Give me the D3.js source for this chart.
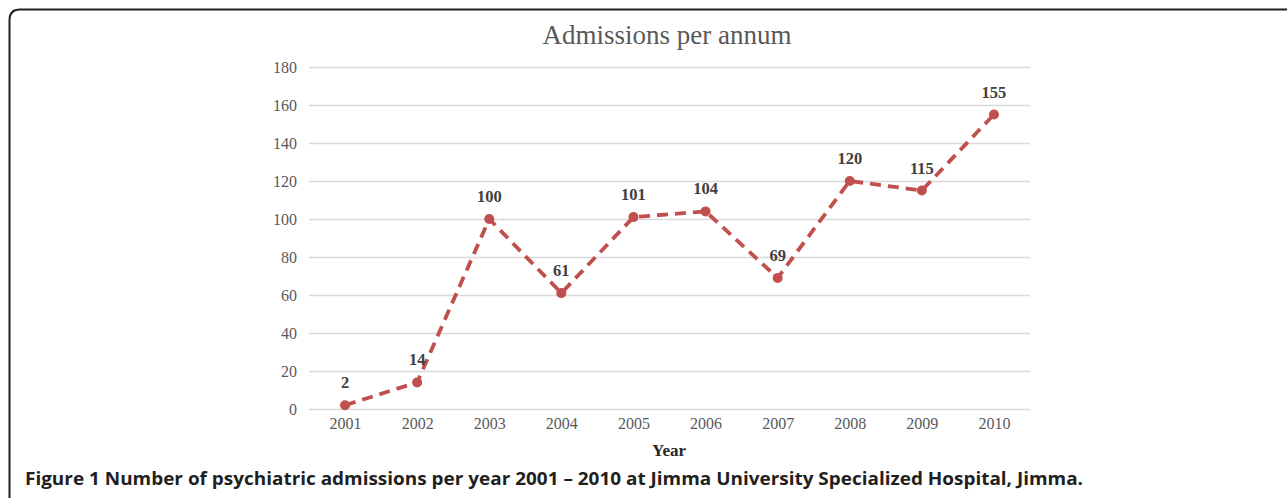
<!DOCTYPE html>
<html>
<head>
<meta charset="utf-8">
<script src="https://cdn.jsdelivr.net/npm/d3@7"></script>
<style>
  body { margin: 0; background: #fff; }
  svg { display: block; }
</style>
</head>
<body>
<div id="chart"></div>
<script>
// data
const years = ["2001", "2002", "2003", "2004", "2005", "2006", "2007", "2008", "2009", "2010"];
const admissions = [2, 14, 100, 61, 101, 104, 69, 120, 115, 155];
const yTicks = [0, 20, 40, 60, 80, 100, 120, 140, 160, 180];

const W = 1287, H = 498;
const svg = d3.select("#chart").append("svg")
    .attr("width", W)
    .attr("height", H);

// frame with rounded top-left corner
svg.append("path")
    .attr("d", "M9.5,498 L9.5,20 Q9.5,9.5 20,9.5 L1287,9.5")
    .attr("fill", "none")
    .attr("stroke", "#231f20")
    .attr("stroke-width", 2);

const x = d3.scalePoint()
    .domain(years)
    .range([309, 1030])
    .padding(0.5);

const y = d3.scaleLinear()
    .domain([0, 180])
    .range([409, 67]);

const serif = "'Liberation Serif', 'Times New Roman', serif";

// gridlines
svg.append("g")
    .selectAll("line")
    .data(yTicks)
    .join("line")
    .attr("x1", 309)
    .attr("x2", 1030)
    .attr("y1", d => y(d) + 0.5)
    .attr("y2", d => y(d) + 0.5)
    .attr("stroke", "#d9d9d9")
    .attr("stroke-width", 1.3);

// y axis labels
const yAxis = svg.append("g")
    .attr("transform", "translate(309,0)")
    .attr("font-family", serif)
    .attr("font-size", 16)
    .call(d3.axisLeft(y).tickValues(yTicks).tickSize(0).tickPadding(12));
yAxis.attr("font-family", serif).attr("font-size", 16);
yAxis.select(".domain").remove();
yAxis.selectAll("text").attr("fill", "#595959");

// x axis labels
const xAxis = svg.append("g")
    .attr("transform", "translate(0,409)")
    .call(d3.axisBottom(x).tickSize(0).tickPadding(9));
xAxis.attr("font-family", serif).attr("font-size", 16);
xAxis.select(".domain").remove();
xAxis.selectAll("text").attr("fill", "#595959");

// title
svg.append("text")
    .attr("x", 667)
    .attr("y", 44)
    .attr("text-anchor", "middle")
    .attr("font-family", serif)
    .attr("font-size", 27)
    .attr("fill", "#595959")
    .text("Admissions per annum");

// x axis title
svg.append("text")
    .attr("x", 669)
    .attr("y", 456)
    .attr("text-anchor", "middle")
    .attr("font-family", serif)
    .attr("font-weight", "bold")
    .attr("font-size", 17)
    .attr("fill", "#262626")
    .text("Year");

// line
const line = d3.line()
    .x((d, i) => x(years[i]))
    .y(d => y(d));

svg.append("path")
    .datum(admissions)
    .attr("d", line)
    .attr("fill", "none")
    .attr("stroke", "#c0504d")
    .attr("stroke-width", 3.8)
    .attr("stroke-dasharray", "11,7")
    .attr("stroke-linejoin", "round");

// markers
svg.append("g")
    .selectAll("circle")
    .data(admissions)
    .join("circle")
    .attr("cx", (d, i) => x(years[i]))
    .attr("cy", d => y(d))
    .attr("r", 5)
    .attr("fill", "#c0504d");

// data labels
svg.append("g")
    .selectAll("text")
    .data(admissions)
    .join("text")
    .attr("x", (d, i) => x(years[i]))
    .attr("y", d => y(d) - 17)
    .attr("text-anchor", "middle")
    .attr("font-family", serif)
    .attr("font-weight", "bold")
    .attr("font-size", 16.5)
    .attr("fill", "#404040")
    .text(d => d);

// caption
svg.append("text")
    .attr("x", 25)
    .attr("y", 485)
    .attr("font-family", "'Open Sans', sans-serif")
    .attr("font-weight", "bold")
    .attr("font-size", 18.5)
    .attr("textLength", 1058)
    .attr("lengthAdjust", "spacingAndGlyphs")
    .attr("fill", "#231f20")
    .text("Figure 1 Number of psychiatric admissions per year 2001 \u2013 2010 at Jimma University Specialized Hospital, Jimma.");
</script>
</body>
</html>
